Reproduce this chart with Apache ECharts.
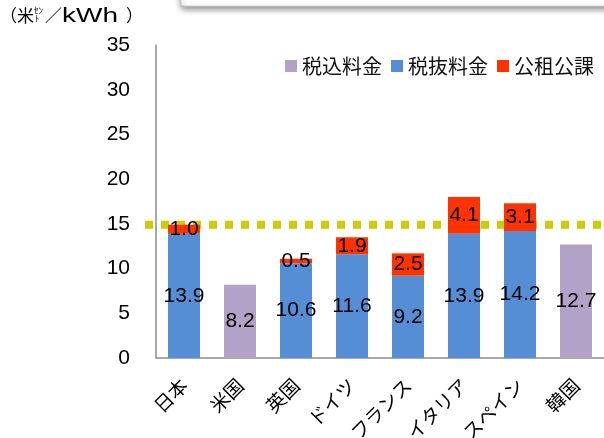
<!DOCTYPE html>
<html>
<head>
<meta charset="utf-8">
<script src="https://cdn.jsdelivr.net/npm/echarts@6/dist/echarts.min.js"></script>
<style>
  html, body { margin: 0; padding: 0; background: #fff; }
  #chart { width: 604px; height: 438px; }
</style>
</head>
<body>
<div id="chart"></div>
<script>
// Electricity prices by country (US cents / kWh)
const countries = ['日本', '米国', '英国', 'ドイツ', 'フランス', 'イタリア', 'スペイン', '韓国'];
const taxIncluded = [null, 8.2, null, null, null, null, null, 12.7];   // 税込料金
const preTax      = [13.9, null, 10.6, 11.6, 9.2, 13.9, 14.2, null];   // 税抜料金
const levies      = [1.0, null, 0.5, 1.9, 2.5, 4.1, 3.1, null];        // 公租公課
const yTicks = { min: 0, max: 35, step: 5 };
const referenceLevel = 14.9;  // 日本の料金水準

const numFont = '"Liberation Sans", Arial, sans-serif';
const jpFont = '"Noto Sans CJK JP", sans-serif';

const chart = echarts.init(document.getElementById('chart'));

const labelStyle = {
  show: true,
  position: 'inside',
  color: '#000',
  fontFamily: numFont,
  fontSize: 21,
  formatter: p => (p.value == null ? '' : p.value.toFixed(1))
};

chart.setOption({
  animation: false,
  grid: { left: 156, right: 0, top: 45, bottom: 80, containLabel: false, outerBoundsMode: 'none' },
  legend: {
    left: 280,
    top: 51,
    itemWidth: 12,
    itemHeight: 12,
    itemGap: 9,
    icon: 'rect',
    textStyle: { fontFamily: jpFont, fontSize: 20, color: '#111' },
    data: ['税込料金', '税抜料金', '公租公課']
  },
  xAxis: {
    type: 'category',
    data: countries,
    axisLine: { lineStyle: { color: '#8c8c8c', width: 1.5 } },
    axisTick: { show: false },
    axisLabel: {
      rotate: 45,
      margin: 24,
      interval: 0,
      color: '#000',
      fontFamily: jpFont,
      fontSize: 19
    }
  },
  yAxis: {
    type: 'value',
    min: yTicks.min,
    max: yTicks.max,
    interval: yTicks.step,
    axisLine: { show: true, lineStyle: { color: '#8c8c8c', width: 1.5 } },
    axisTick: { show: false },
    splitLine: { show: false },
    axisLabel: { margin: 26, color: '#000', fontFamily: numFont, fontSize: 21 }
  },
  series: [
    {
      name: '税込料金', type: 'bar', stack: 'price', barWidth: 32,
      data: taxIncluded, itemStyle: { color: '#B3A2C7' }, label: labelStyle, z: 3
    },
    {
      name: '税抜料金', type: 'bar', stack: 'price', barWidth: 32,
      data: preTax, itemStyle: { color: '#558ED5' }, label: labelStyle, z: 3
    },
    {
      name: '公租公課', type: 'bar', stack: 'price', barWidth: 32,
      data: levies, itemStyle: { color: '#FF3300' }, label: labelStyle, z: 3
    }
  ]
});

// Dotted reference level, drawn behind the bars and extending slightly left of the axis
const yRef = chart.convertToPixel({ yAxisIndex: 0 }, referenceLevel);

function unitText(x, y, text, font, extra) {
  return Object.assign({
    type: 'text', x: x, y: y, z: 10,
    style: { text: text, font: font, fill: '#000', verticalAlign: 'middle' }
  }, extra || {});
}

chart.setOption({
  graphic: [
    {
      type: 'rect', z: 0,
      shape: { x: 181, y: -30, width: 460, height: 36, r: 4 },
      style: {
        fill: '#fff', stroke: '#d4d4d4', lineWidth: 1,
        shadowBlur: 6, shadowOffsetY: 3, shadowColor: 'rgba(0,0,0,0.45)'
      }
    },
    {
      type: 'line', z: 1,
      shape: { x1: 145, y1: yRef, x2: 604, y2: yRef },
      style: { stroke: '#CCCC00', lineWidth: 8, lineDash: [8, 8] }
    },
    // unit label: （米ｾﾝﾄ／kWh）
    unitText(0, 16, '（', '17px ' + jpFont),
    unitText(17, 16, '米', '17px ' + jpFont),
    unitText(34, 11, 'ｾﾝ', '9px ' + jpFont),
    unitText(35, 19, 'ﾄ', '9px ' + jpFont),
    unitText(45, 16, '／', '17px ' + jpFont),
    unitText(62, 16, 'kWh', '20px ' + numFont, { scaleX: 1.4 }),
    unitText(126, 16, '）', '17px ' + jpFont)
  ]
});
</script>
</body>
</html>
